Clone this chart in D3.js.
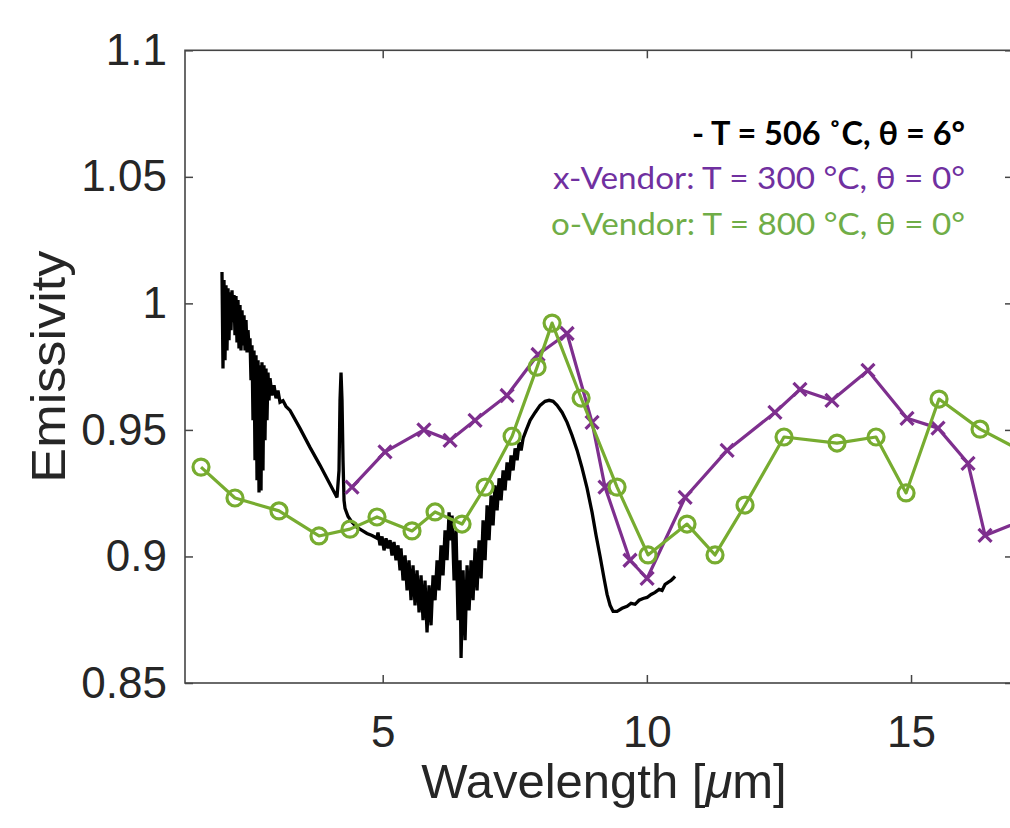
<!DOCTYPE html>
<html>
<head>
<meta charset="utf-8">
<script src="https://cdn.jsdelivr.net/npm/d3@7"></script>
<style>
  html, body { margin: 0; padding: 0; background: #fff; }
  svg { display: block; }
</style>
</head>
<body>
<svg id="chart" width="1010" height="828"></svg>
<script>
// Axis limits and ticks
const wavelengthLimits = [1.258, 16.93];
const emissivityLimits = [0.85, 1.1];
const xTicks = [5, 10, 15];
const yTicks = [0.85, 0.9, 0.95, 1, 1.05, 1.1];
const yTickLabels = ["0.85", "0.9", "0.95", "1", "1.05", "1.1"];

// Measured spectrum, T = 506 °C, θ = 6° : [wavelength µm, emissivity]
const measured = [
  [1.958,1.0124],[1.977,0.9743],[1.996,1.0092],[2.015,0.9775],[2.034,1.0072],[2.053,0.9814],
  [2.072,1.0060],[2.091,0.9854],[2.110,1.0044],[2.129,0.9894],[2.148,1.0052],[2.167,0.9926],
  [2.186,1.0033],[2.204,0.9874],[2.223,1.0029],[2.242,0.9846],[2.261,1.0013],[2.280,0.9822],
  [2.299,0.9993],[2.318,0.9814],[2.337,0.9973],[2.356,0.9834],[2.375,0.9953],[2.394,0.9814],
  [2.413,0.9934],[2.432,0.9806],[2.451,0.9894],[2.469,0.9822],[2.488,0.9862],[2.507,0.9696],
  [2.526,0.9834],[2.545,0.9538],[2.564,0.9814],[2.583,0.9380],[2.602,0.9795],[2.621,0.9301],
  [2.640,0.9775],[2.659,0.9253],[2.678,0.9755],[2.697,0.9261],[2.715,0.9767],[2.734,0.9340],
  [2.753,0.9755],[2.772,0.9459],[2.791,0.9743],[2.810,0.9538],[2.829,0.9727],[2.848,0.9617],
  [2.867,0.9704],[2.905,0.9636],[2.943,0.9676],[2.981,0.9625],[3.018,0.9656],[3.056,0.9609],
  [3.113,0.9615],[3.170,0.9593],[3.246,0.9577],[3.435,0.9506],[3.624,0.9431],[3.814,0.9360],
  [4.003,0.9285],[4.135,0.9233],[4.173,0.9340],[4.192,0.9617],[4.211,0.9727],[4.230,0.9617],
  [4.249,0.9380],[4.268,0.9222],[4.287,0.9190],[4.344,0.9158],[4.419,0.9135],[4.514,0.9115],
  [4.608,0.9103],[4.703,0.9091],[4.798,0.9083],[4.892,0.9072],
  [4.911,0.9095],[4.949,0.9044],[4.987,0.9079],[5.025,0.9024],[5.063,0.9072],[5.101,0.9032],
  [5.139,0.9064],[5.176,0.9004],[5.214,0.9057],[5.252,0.8985],[5.290,0.9044],[5.328,0.8945],
  [5.347,0.9032],[5.385,0.8905],[5.423,0.9004],[5.461,0.8866],[5.498,0.8985],[5.536,0.8827],
  [5.574,0.8965],[5.612,0.8807],[5.650,0.8945],[5.688,0.8779],[5.726,0.8925],[5.763,0.8748],
  [5.801,0.8905],[5.839,0.8700],[5.877,0.8886],[5.915,0.8728],[5.953,0.8925],[5.991,0.8827],
  [6.029,0.8985],[6.066,0.8866],[6.104,0.9044],[6.142,0.8925],[6.180,0.9103],[6.218,0.8985],
  [6.256,0.9174],[6.294,0.9064],[6.313,0.9162],[6.351,0.8905],[6.388,0.9103],[6.426,0.8748],
  [6.464,0.8985],[6.483,0.8599],[6.521,0.8945],[6.559,0.8669],[6.597,0.8965],[6.635,0.8787],
  [6.673,0.8985],[6.710,0.8827],[6.748,0.9032],[6.786,0.8866],[6.824,0.9064],[6.862,0.8913],
  [6.900,0.9143],[6.938,0.8985],[6.976,0.9202],[7.013,0.9064],[7.051,0.9241],[7.089,0.9123],
  [7.127,0.9281],[7.165,0.9182],[7.203,0.9309],[7.241,0.9222],[7.279,0.9340],[7.316,0.9261],
  [7.354,0.9372],[7.392,0.9301],[7.430,0.9399],[7.468,0.9340],[7.506,0.9427],[7.544,0.9380],
  [7.582,0.9451],[7.620,0.9419],[7.657,0.9466],
  [7.714,0.9498],[7.790,0.9538],[7.885,0.9569],[7.979,0.9597],[8.074,0.9613],[8.150,0.9617],
  [8.225,0.9613],[8.301,0.9597],[8.396,0.9569],[8.490,0.9530],[8.585,0.9478],[8.680,0.9419],
  [8.774,0.9349],[8.869,0.9269],[8.963,0.9174],[9.039,0.9083],[9.115,0.9000],[9.190,0.8913],
  [9.247,0.8850],[9.304,0.8807],[9.361,0.8783],[9.436,0.8783],[9.531,0.8795],[9.626,0.8803],
  [9.701,0.8815],[9.777,0.8811],[9.853,0.8827],[9.928,0.8834],[10.004,0.8838],[10.080,0.8850],
  [10.155,0.8858],[10.231,0.8870],[10.288,0.8866],[10.345,0.8890],[10.401,0.8898],[10.458,0.8905],
  [10.496,0.8913],[10.534,0.8921]
];

// Vendor x data, T = 300 °C, θ = 0°
const vendorX = [
  [4.419,0.9274],[5.044,0.9413],[5.780,0.9500],[6.275,0.9459],[6.748,0.9538],[7.354,0.9636],
  [7.940,0.9798],[8.490,0.9881],[8.963,0.9530],[9.208,0.9274],[9.681,0.8985],[10.004,0.8913],
  [10.724,0.9233],[11.519,0.9419],[12.424,0.9569],[12.898,0.9660],[13.503,0.9617],[14.185,0.9735],
  [14.924,0.9546],[15.511,0.9507],[16.079,0.9368],[16.401,0.9083],[17.060,0.9138]
];

// Vendor o data, T = 800 °C, θ = 0°
const vendorO = [
  [1.561,0.9353],[2.204,0.9231],[3.037,0.9180],[3.794,0.9081],[4.381,0.9108],[4.892,0.9156],
  [5.555,0.9101],[5.991,0.9176],[6.502,0.9128],[6.938,0.9274],[7.449,0.9475],[7.922,0.9748],
  [8.206,0.9922],[8.755,0.9626],[9.436,0.9274],[10.022,0.9006],[10.760,0.9128],[11.290,0.9006],
  [11.858,0.9203],[12.596,0.9472],[13.599,0.9448],[14.338,0.9472],[14.906,0.9251],[15.530,0.9622],
  [16.306,0.9503],[17.250,0.9400]
];

const legendLines = [
  { text: "- T = 506 \u02DAC, \u03B8 = 6\u00B0", color: "#000000", weight: "bold" },
  { text: "x-Vendor: T = 300 \u00B0C, \u03B8 = 0\u00B0", color: "#7030A0", weight: "normal" },
  { text: "o-Vendor: T = 800 \u00B0C, \u03B8 = 0\u00B0", color: "#70AD47", weight: "normal" }
];

const colors = { measured: "#000000", vendorX: "#7E2F8E", vendorO: "#77AC30", axis: "#454545", text: "#262626" };

// Layout
const plot = { left: 185, right: 1013, top: 50.3, bottom: 683 };

const svg = d3.select("#chart");
svg.append("rect").attr("width", 1010).attr("height", 828).attr("fill", "#fff");

const x = d3.scaleLinear().domain(wavelengthLimits).range([plot.left, plot.right]);
const y = d3.scaleLinear().domain(emissivityLimits).range([plot.bottom, plot.top]);

svg.append("defs").append("clipPath").attr("id", "plotClip")
  .append("rect")
  .attr("x", plot.left).attr("y", plot.top)
  .attr("width", plot.right - plot.left).attr("height", plot.bottom - plot.top);

const tickFont = "'Liberation Sans', Arial, Helvetica, sans-serif";

// Axes (ticks point inward, box style)
const yAxis = d3.axisLeft(y).tickValues(yTicks)
  .tickFormat((d, i) => yTickLabels[i]).tickSize(-8).tickPadding(18);
const gy = svg.append("g").attr("transform", `translate(${plot.left},0)`).call(yAxis);

const xAxis = d3.axisBottom(x).tickValues(xTicks).tickFormat(d3.format("d"))
  .tickSize(-8).tickPadding(33);
const gx = svg.append("g").attr("transform", `translate(0,${plot.bottom})`).call(xAxis);

const yAxisR = d3.axisRight(y).tickValues(yTicks).tickFormat("").tickSize(-8);
const gyr = svg.append("g").attr("transform", `translate(${plot.right},0)`).call(yAxisR);
const xAxisT = d3.axisTop(x).tickValues(xTicks).tickFormat("").tickSize(-8);
const gxt = svg.append("g").attr("transform", `translate(0,${plot.top})`).call(xAxisT);

[gx, gy, gxt, gyr].forEach(g => {
  g.select(".domain").remove();
  g.selectAll(".tick line").attr("stroke", colors.axis).attr("stroke-width", 1.5);
  g.selectAll(".tick text").attr("fill", colors.text)
    .style("font-family", tickFont).style("font-size", "44px");
});

svg.append("rect")
  .attr("x", plot.left).attr("y", plot.top)
  .attr("width", plot.right - plot.left).attr("height", plot.bottom - plot.top)
  .attr("fill", "none").attr("stroke", colors.axis).attr("stroke-width", 1.6);

// Axis titles
svg.append("text")
  .attr("transform", `translate(65,${(plot.top + plot.bottom) / 2}) rotate(-90)`)
  .attr("text-anchor", "middle")
  .attr("fill", colors.text)
  .attr("textLength", 232).attr("lengthAdjust", "spacingAndGlyphs")
  .style("font-family", tickFont).style("font-size", "49px")
  .text("Emissivity");

const xl = svg.append("text")
  .attr("x", 604).attr("y", 798)
  .attr("text-anchor", "middle")
  .attr("fill", colors.text)
  .style("font-family", tickFont).style("font-size", "49px");
xl.append("tspan").text("Wavelength [");
xl.append("tspan").style("font-style", "italic").text("\u03BC");
xl.append("tspan").text("m]");

// Series
const line = d3.line().x(d => x(d[0])).y(d => y(d[1]));
const series = svg.append("g").attr("clip-path", "url(#plotClip)");

series.append("path").datum(measured)
  .attr("d", line).attr("fill", "none")
  .attr("stroke", colors.measured).attr("stroke-width", 3.3)
  .attr("stroke-linejoin", "miter").attr("stroke-miterlimit", 3);

series.append("path").datum(vendorX)
  .attr("d", line).attr("fill", "none")
  .attr("stroke", colors.vendorX).attr("stroke-width", 3.2).attr("stroke-linejoin", "round");

const xm = 6.5;
series.append("g").selectAll("path").data(vendorX).join("path")
  .attr("d", d => {
    const cx = x(d[0]), cy = y(d[1]);
    return `M${cx - xm},${cy - xm}L${cx + xm},${cy + xm}M${cx - xm},${cy + xm}L${cx + xm},${cy - xm}`;
  })
  .attr("stroke", colors.vendorX).attr("stroke-width", 3.2).attr("fill", "none");

series.append("path").datum(vendorO)
  .attr("d", line).attr("fill", "none")
  .attr("stroke", colors.vendorO).attr("stroke-width", 3.2).attr("stroke-linejoin", "round");

series.append("g").selectAll("circle").data(vendorO).join("circle")
  .attr("cx", d => x(d[0])).attr("cy", d => y(d[1])).attr("r", 8)
  .attr("fill", "none").attr("stroke", colors.vendorO).attr("stroke-width", 3.2);

// Legend text block
const legendWidths = [273, 412, 414];
const legendBase = [145, 189, 235];
svg.append("g").selectAll("text").data(legendLines).join("text")
  .attr("x", 965).attr("y", (d, i) => legendBase[i])
  .attr("text-anchor", "end")
  .attr("fill", d => d.color)
  .style("font-family", "Lato, 'Open Sans', sans-serif")
  .style("font-size", "31.5px")
  .style("font-weight", d => d.weight)
  .attr("textLength", (d, i) => legendWidths[i])
  .attr("lengthAdjust", "spacingAndGlyphs")
  .text(d => d.text);
</script>
</body>
</html>
